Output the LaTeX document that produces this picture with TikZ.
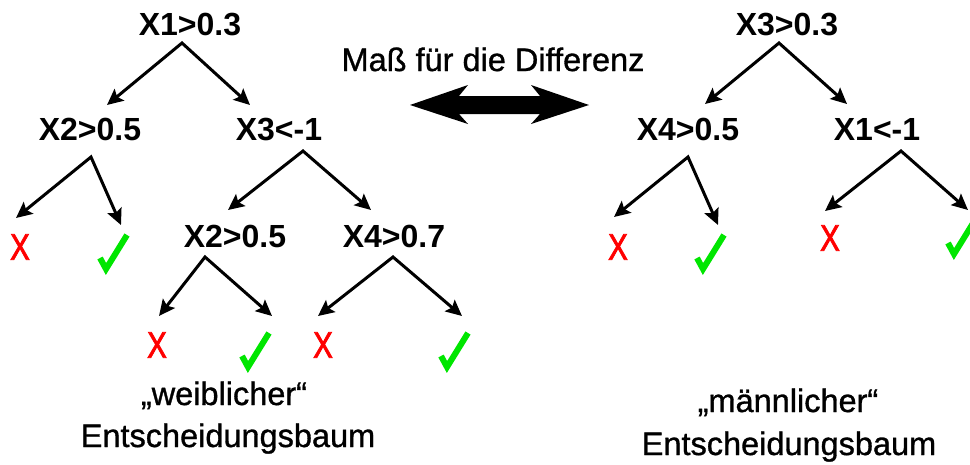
\documentclass[tikz,border=0pt]{standalone}
\usepackage{fontspec}
\setmainfont{Liberation Sans}
\newfontfamily\xmarkfont[FakeStretch=0.8,FakeBold=2]{Liberation Sans}
\newfontfamily\capfont[FakeBold=1]{Liberation Sans}
\usetikzlibrary{arrows.meta}
\definecolor{chkgreen}{RGB}{0,230,0}
\definecolor{xred}{RGB}{255,0,0}
\tikzset{
  lbl/.style={anchor=base,inner sep=0pt,font=\fontsize{32}{36}\selectfont\bfseries},
  captxt/.style={anchor=base,inner sep=0pt,font=\capfont\fontsize{32.5}{40}\selectfont},
  xm/.style={inner sep=0pt,text=xred,font=\xmarkfont\fontsize{37}{40}\selectfont},
  conn/.style={line width=3pt,{Stealth[length=16pt,width=15pt,inset=3pt]}-{Stealth[length=16pt,width=15pt,inset=3pt]},line join=miter},
  chk/.style={draw=chkgreen,line width=6pt,line join=miter,line cap=butt},
}
\begin{document}
\begin{tikzpicture}[x=1pt,y=-1pt]
\useasboundingbox (0,0) rectangle (970,464);
% left tree labels
\node[lbl] (n1) at (190,35) {X1>0.3};
\node[lbl] (n2) at (90,140) {X2>0.5};
\node[lbl] (n3) at (279,140) {X3<-1};
\node[lbl] (n4) at (235,247) {X2>0.5};
\node[lbl] (n5) at (394,247) {X4>0.7};
% right tree labels
\node[lbl] (m1) at (787,35) {X3>0.3};
\node[lbl] (m2) at (688,140) {X4>0.5};
\node[lbl] (m3) at (877,140) {X1<-1};
% apexes
\coordinate (a1) at (182,43);
\coordinate (a2) at (91,157);
\coordinate (a3) at (303,151);
\coordinate (a4) at (205,257);
\coordinate (a5) at (393,257);
\coordinate (b1) at (779,43);
\coordinate (b2) at (688,157);
\coordinate (b3) at (901,151);
% tips
\coordinate (t2x) at (16,218);
\coordinate (t2c) at (121,225);
\coordinate (t1l) at (107,105);
\coordinate (t1r) at (250,105);
\coordinate (t3l) at (228,210);
\coordinate (t3r) at (371,210);
\coordinate (t4x) at (159,316);
\coordinate (t4c) at (272,316);
\coordinate (t5x) at (318,316);
\coordinate (t5c) at (462,316);
\coordinate (u1l) at (705,104);
\coordinate (u1r) at (847,104);
\coordinate (u2x) at (614,217);
\coordinate (u2c) at (718,225);
\coordinate (u3x) at (825,211);
\coordinate (u3c) at (968,210);
% connectors
\draw[conn] (t1l) -- (a1) -- (t1r);
\draw[conn] (t2x) -- (a2) -- (t2c);
\draw[conn] (t3l) -- (a3) -- (t3r);
\draw[conn] (t4x) -- (a4) -- (t4c);
\draw[conn] (t5x) -- (a5) -- (t5c);
\draw[conn] (u1l) -- (b1) -- (u1r);
\draw[conn] (u2x) -- (b2) -- (u2c);
\draw[conn] (u3x) -- (b3) -- (u3c);
% red X leaves
\node[xm] (x1) at (20,247) {X};
\node[xm] (x2) at (157,345) {X};
\node[xm] (x3) at (323,345) {X};
\node[xm] (x4) at (618,247) {X};
\node[xm] (x5) at (830,238) {X};
% check marks
\draw[chk] (100,258) -- (106,269) -- (127,235);
\draw[chk] (242,356) -- (248,367) -- (269,333);
\draw[chk] (441,356) -- (447,367) -- (468,333);
\draw[chk] (697,258) -- (703,269) -- (724,235);
\draw[chk] (948,243) -- (954,254) -- (975,220);
% double arrow
\fill[black] (410,105) -- (468,85) -- (459,96) -- (540,96) -- (531,85) -- (589,105)
  -- (531,124) -- (540,114) -- (459,114) -- (468,124) -- cycle;
\node[captxt] (mass) at (493,71) {Maß für die Differenz};
% captions
\node[captxt] (c1a) at (224,405) {„weiblicher“};
\node[captxt] (c1b) at (228,447) {Entscheidungsbaum};
\node[captxt] (c2a) at (788,412) {„männlicher“};
\node[captxt] (c2b) at (789,455) {Entscheidungsbaum};
\end{tikzpicture}
\end{document}
